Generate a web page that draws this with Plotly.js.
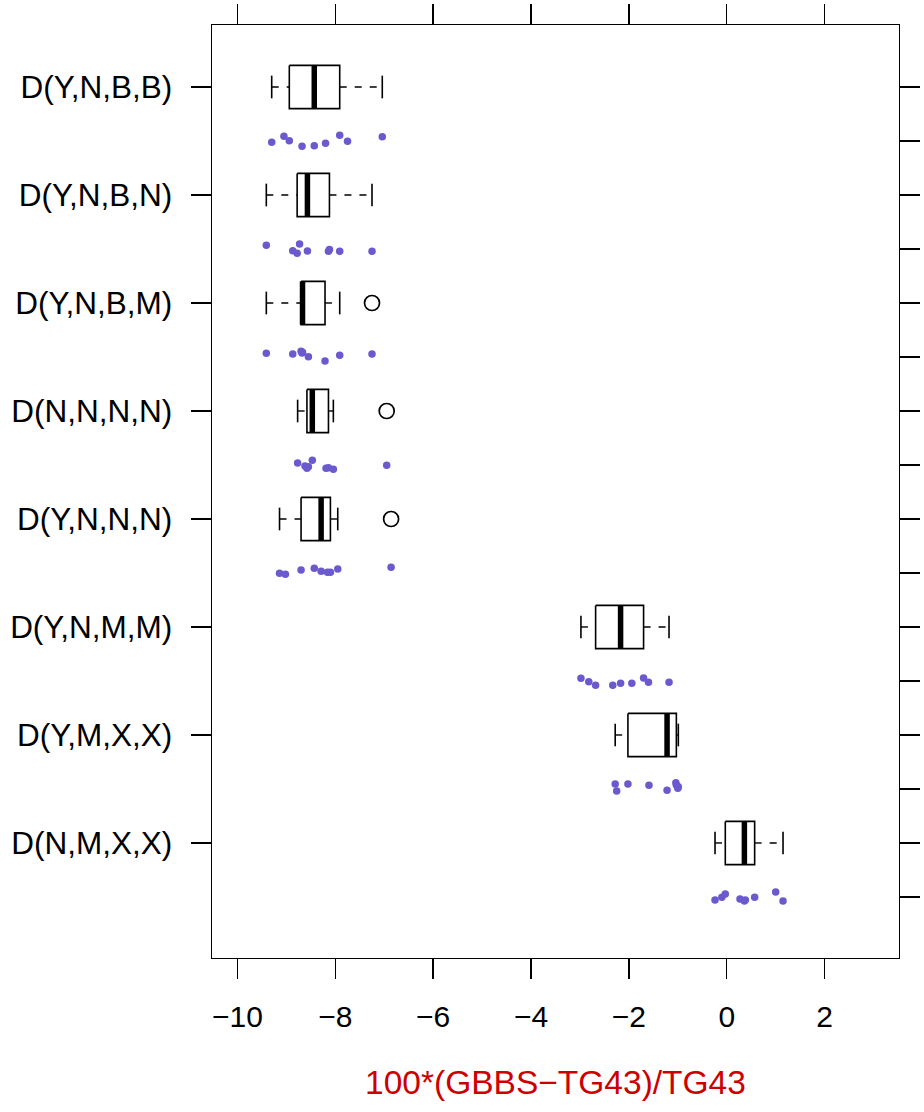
<!DOCTYPE html>
<html>
<head>
<meta charset="utf-8">
<script src="https://cdn.plot.ly/plotly-3.0.1.min.js"></script>
<style>html,body{margin:0;padding:0;background:#fff;}#chart{width:924px;height:1112px;}</style>
</head>
<body>
<div id="chart"></div>
<script>
// ---- Data ----
var categories = ["D(Y,N,B,B)", "D(Y,N,B,N)", "D(Y,N,B,M)", "D(N,N,N,N)",
                  "D(Y,N,N,N)", "D(Y,N,M,M)", "D(Y,M,X,X)", "D(N,M,X,X)"];

var vals_YNBB = [-9.30, -9.05, -8.94, -8.68, -8.43, -8.20, -7.91, -7.75, -7.04];
var vals_YNBN = [-9.41, -8.87, -8.78, -8.73, -8.57, -8.14, -8.12, -7.91, -7.25];
var vals_YNBM = [-9.41, -8.87, -8.70, -8.68, -8.67, -8.55, -8.21, -7.91, -7.25];
var vals_NNNN = [-8.77, -8.62, -8.58, -8.55, -8.47, -8.19, -8.14, -8.04, -6.95];
var vals_YNNN = [-9.14, -9.02, -8.70, -8.43, -8.29, -8.16, -8.10, -7.95, -6.86];
var vals_YNMM = [-2.98, -2.82, -2.68, -2.33, -2.17, -1.94, -1.70, -1.60, -1.18];
var vals_YMXX = [-2.28, -2.25, -2.02, -1.59, -1.22, -1.04, -1.03, -1.00, -0.99];
var vals_NMXX = [-0.24, -0.10, -0.03, 0.27, 0.36, 0.38, 0.57, 1.00, 1.15];

// vertical jitter of the strip points (category units)
var jit_YNBB = [0.012, -0.044, -0.003, 0.049, 0.044, 0.021, -0.053, 0.003, -0.040];
var jit_YNBN = [-0.034, 0.016, 0.040, -0.046, 0.019, 0.021, 0.005, 0.021, 0.021];
var jit_YNBM = [-0.034, -0.028, -0.053, -0.037, -0.044, -0.003, 0.037, -0.016, -0.028];
var jit_NNNN = [-0.019, 0.009, 0.031, 0.016, -0.044, 0.031, 0.025, 0.040, 0.003];
var jit_YNNN = [0.003, 0.012, -0.028, -0.044, -0.016, -0.006, -0.006, -0.037, -0.053];
var jit_YNMM = [-0.025, 0.006, 0.040, 0.040, 0.021, 0.021, -0.028, 0.012, 0.012];
var jit_YMXX = [-0.046, 0.019, -0.046, -0.034, 0.012, -0.058, -0.037, -0.006, -0.021];
var jit_NMXX = [0.028, 0.003, -0.028, 0.019, 0.037, 0.028, 0.003, -0.046, 0.037];

var xTicks = [-10, -8, -6, -4, -2, 0, 2];
var xTitle = "100*(GBBS\u2212TG43)/TG43";

// ---- Build traces ----
var groups = [vals_YNBB, vals_YNBN, vals_YNBM, vals_NNNN, vals_YNNN, vals_YNMM, vals_YMXX, vals_NMXX];
var jitters = [jit_YNBB, jit_YNBN, jit_YNBM, jit_NNNN, jit_YNNN, jit_YNMM, jit_YMXX, jit_NMXX];

function fivenum(arr) {
  var x = arr.slice().sort(function(a, b){ return a - b; });
  var n = x.length;
  var n4 = Math.floor((n + 3) / 2) / 2;
  var d = [1, n4, (n + 1) / 2, n + 1 - n4, n];
  return d.map(function(di){ return 0.5 * (x[Math.floor(di) - 1] + x[Math.ceil(di) - 1]); });
}

var BH = 0.2;   // half box height
var CH = 0.105; // half cap height
var boxX = [], boxY = [], medX = [], medY = [], whX = [], whY = [], capX = [], capY = [];
var outX = [], outY = [], ptX = [], ptY = [];

groups.forEach(function(g, i) {
  var f = fivenum(g);
  var q1 = f[1], med = f[2], q3 = f[3];
  var iqr = q3 - q1;
  var lo = q1 - 1.5 * iqr, hi = q3 + 1.5 * iqr;
  var inside = g.filter(function(v){ return v >= lo && v <= hi; });
  var lw = Math.min.apply(null, inside), uw = Math.max.apply(null, inside);
  g.forEach(function(v){ if (v < lo || v > hi) { outX.push(v); outY.push(i); } });
  boxX.push(q1, q3, q3, q1, q1, null);
  boxY.push(i - BH, i - BH, i + BH, i + BH, i - BH, null);
  medX.push(med, med, null);
  medY.push(i - BH, i + BH, null);
  if (lw < q1) { whX.push(lw, q1, null); whY.push(i, i, null); }
  if (uw > q3) { whX.push(q3, uw, null); whY.push(i, i, null); }
  capX.push(lw, lw, null, uw, uw, null);
  capY.push(i - CH, i + CH, null, i - CH, i + CH, null);
  g.forEach(function(v, k){ ptX.push(v); ptY.push(i + 0.5 + jitters[i][k]); });
});

var traces = [
  {x: whX, y: whY, mode: 'lines', line: {color: '#000', width: 1.4, dash: '7px,8px'}, hoverinfo: 'skip', showlegend: false},
  {x: capX, y: capY, mode: 'lines', line: {color: '#000', width: 1.6}, hoverinfo: 'skip', showlegend: false},
  {x: boxX, y: boxY, mode: 'lines', line: {color: '#000', width: 1.6}, fill: 'none', hoverinfo: 'skip', showlegend: false},
  {x: medX, y: medY, mode: 'lines', line: {color: '#000', width: 5.5}, hoverinfo: 'skip', showlegend: false},
  {x: outX, y: outY, mode: 'markers', marker: {symbol: 'circle-open', size: 15, color: '#000', line: {width: 1.7}}, hoverinfo: 'skip', showlegend: false},
  {x: ptX, y: ptY, mode: 'markers', marker: {symbol: 'circle', size: 7.5, color: '#6A5ACD'}, hoverinfo: 'skip', showlegend: false},
  // invisible helper to activate the right-hand axis
  {x: [xTicks[0]], y: [0], yaxis: 'y2', mode: 'markers', marker: {opacity: 0}, hoverinfo: 'skip', showlegend: false}
];

var catIdx = categories.map(function(c, i){ return i; });
var rightTicks = [];
categories.forEach(function(c, i){ rightTicks.push(i, i + 0.5); });

var yRange = [7.5 + 0.565, -0.574];
var fontFam = '"Liberation Sans", Arial, Helvetica, sans-serif';

var layout = {
  width: 924, height: 1112,
  margin: {l: 212, r: 25, t: 25, b: 154, pad: 0},
  paper_bgcolor: '#fff', plot_bgcolor: '#fff',
  font: {family: fontFam, size: 30, color: '#000'},
  showlegend: false,
  xaxis: {
    range: [-10.52, 3.52], tickmode: 'array', tickvals: xTicks,
    ticks: 'outside', ticklen: 20, tickwidth: 1.4, tickcolor: '#000',
    showline: true, linecolor: '#000', linewidth: 1.4, mirror: 'ticks',
    showgrid: false, zeroline: false,
    tickfont: {family: fontFam, size: 30, color: '#000'},
    ticklabelstandoff: 12,
    title: {text: xTitle, font: {family: fontFam, size: 33.5, color: '#CC0000'}, standoff: 38}
  },
  yaxis: {
    range: yRange, tickmode: 'array', tickvals: catIdx, ticktext: categories,
    ticks: 'outside', ticklen: 20, tickwidth: 1.4, tickcolor: '#000',
    showline: true, linecolor: '#000', linewidth: 1.4, mirror: true,
    showgrid: false, zeroline: false,
    tickfont: {family: fontFam, size: 31.5, color: '#000'},
    ticklabelstandoff: 12
  },
  yaxis2: {
    range: yRange, overlaying: 'y', side: 'right', tickmode: 'array', tickvals: rightTicks,
    showticklabels: false, ticks: 'outside', ticklen: 20, tickwidth: 1.4, tickcolor: '#000',
    showline: true, linecolor: '#000', linewidth: 1.4, showgrid: false, zeroline: false
  }
};

Plotly.newPlot('chart', traces, layout, {staticPlot: true, displayModeBar: false});
</script>
</body>
</html>
